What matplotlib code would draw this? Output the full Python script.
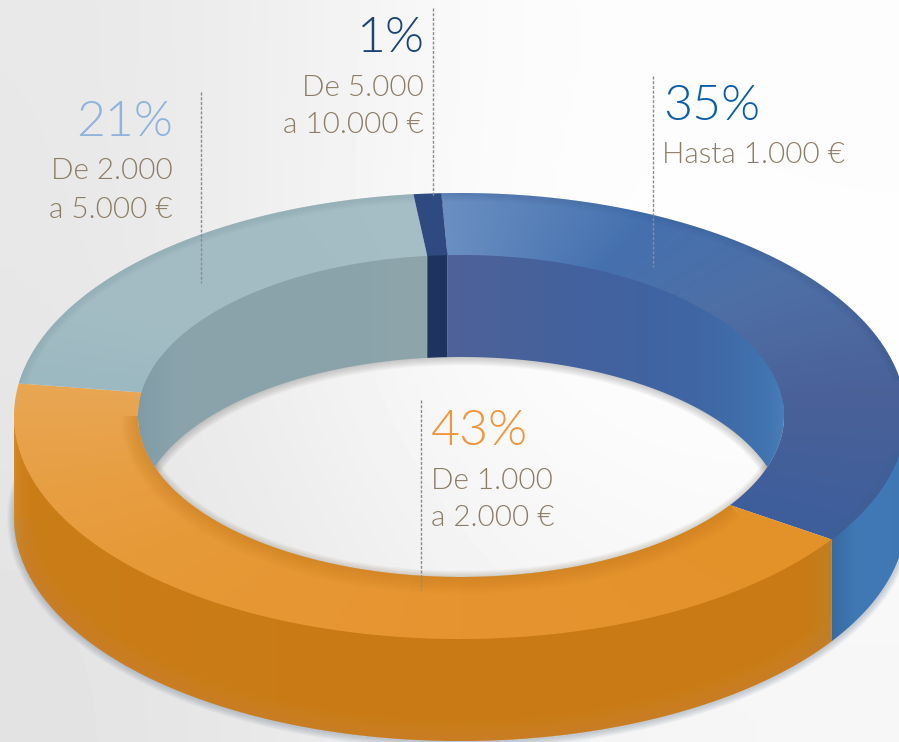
import numpy as np
import matplotlib
matplotlib.use("Agg")
import matplotlib.pyplot as plt
from matplotlib import font_manager as fm
from matplotlib.colors import LinearSegmentedColormap
from matplotlib.patches import PathPatch
from matplotlib.path import Path

# data
labels = ["Hasta 1.000 €", "De 1.000\na 2.000 €", "De 2.000\na 5.000 €", "De 5.000\na 10.000 €"]
shares = [35, 43, 21, 1]
share_labels = ["35%", "43%", "21%", "1%"]
bg_levels = [[0xe8, 0xee, 0xfa, 0xfd, 0xfc],
             [0xe6, 0xef, 0xfb, 0xff, 0xff],
             [0xe3, 0xe8, 0xf0, 0xf5, 0xf6]]

W, H = 899, 742
TXT = "#8d7d67"

# ring geometry in pixels
CX, CY, RX, RY = 460, 416, 446, 223
ICX, IRX, IRY = 461, 323, 161
DEPTH = 102
START = -2.4

edges = START + np.concatenate([[0], np.cumsum(shares)]) * 3.6
a0, a1, a2, a3, a4 = edges


def find_font(size):
    # weight lookup lands on the hairline cut, so pick the file by name
    names = [f.fname for f in fm.fontManager.ttflist if "lato" in f.fname.lower()]
    light = [n for n in names if n.lower().endswith("light.ttf") and "hair" not in n.lower()]
    if light:
        return fm.FontProperties(fname=sorted(light, key=len)[0], size=size)
    return fm.FontProperties(family="Open Sans", weight="light", size=size)


fig = plt.figure(figsize=(W / 100, H / 100), dpi=100)
ax = fig.add_axes([0, 0, 1, 1])
ax.set_xlim(0, W)
ax.set_ylim(H, 0)
ax.axis("off")

yy, xx = np.mgrid[0:H, 0:W]
outer_angle = np.degrees(np.arctan2((xx - CX) / RX, (CY - yy) / RY))
outer_angle = np.where(outer_angle < START, outer_angle + 360, outer_angle)
wall_angle = np.degrees(np.arcsin(np.clip((xx - CX) / RX, -1, 1)))
inner_wall_angle = np.degrees(np.arcsin(np.clip((xx - ICX) / IRX, -1, 1)))


def arc(t1, t2, cx, rx, ry, dy=0, n=200):
    t = np.radians(np.linspace(t1, t2, n))
    return cx + rx * np.sin(t), CY + dy - ry * np.cos(t)


def closed(x, y):
    v = np.column_stack([np.append(x, x[0]), np.append(y, y[0])])
    codes = [Path.MOVETO] + [Path.LINETO] * (len(x) - 1) + [Path.CLOSEPOLY]
    return Path(v, codes)


def sector(t1, t2):
    x1, y1 = arc(t1, t2, CX, RX, RY)
    x2, y2 = arc(t2, t1, ICX, IRX, IRY)
    return closed(np.r_[x1, x2], np.r_[y1, y2])


def band(t1, t2, cx, rx, ry, up=0):
    # up: start a bit above the top edge, the top surface covers that part
    x1, y1 = arc(t1, t2, cx, rx, ry, -up)
    x2, y2 = arc(t2, t1, cx, rx, ry, DEPTH)
    return closed(np.r_[x1, x2], np.r_[y1, y2])


def fill(path, field, stops, inside_hole=False):
    pos = np.array([s[0] for s in stops], dtype=float)
    lo, hi = pos[0], pos[-1]
    cmap = LinearSegmentedColormap.from_list("g", [((p - lo) / (hi - lo), s[1]) for p, s in zip(pos, stops)])
    im = ax.imshow(field, extent=(-0.5, W - 0.5, H - 0.5, -0.5), cmap=cmap, vmin=lo, vmax=hi,
                   interpolation="nearest", aspect="auto", zorder=2)
    if inside_hole:
        # the far wall is only seen through the inner ellipse
        verts = path.vertices.copy()
        limit = CY + IRY * np.sqrt(np.clip(1 - ((verts[:, 0] - ICX) / IRX) ** 2, 0, 1))
        verts[:, 1] = np.minimum(verts[:, 1], limit)
        path = Path(verts, path.codes)
    p = PathPatch(path, transform=ax.transData, fc="none", ec="none")
    ax.add_patch(p)
    im.set_clip_path(p)
    return p


def soft(x, y, color, width, alpha, clip=None, zorder=3, n=8):
    for i in range(n):
        ln, = ax.plot(x, y, color=color, lw=width * (i + 1) / n, alpha=alpha / n,
                      solid_capstyle="butt", zorder=zorder)
        if clip is not None:
            ln.set_clip_path(clip)


# background
ax.imshow(np.array(bg_levels), extent=(0, W, H, 0), cmap="gray", vmin=0, vmax=255,
          interpolation="bicubic", aspect="auto", zorder=0)

# drop shadows under the ring and on the hole floor
sx, sy = arc(75, 285, CX, RX, RY, DEPTH + 1)
soft(sx, sy, "#6f7f92", 10, 0.4, zorder=1)
sx, sy = arc(-80, 80, ICX, IRX, IRY, DEPTH)
soft(sx, sy, "#666666", 12, 0.35, zorder=1)
sx, sy = arc(95, 265, ICX, IRX, IRY)
soft(sx, sy, "#8a7a60", 9, 0.3, zorder=1)

# outer wall
orange_wall = fill(band(a1, 270, CX, RX, RY, 3), wall_angle,
                   [(-90, "#d28a2c"), (-75, "#cb7d18"), (0, "#c97a14"), (50, "#c97a14"), (56.3, "#c0801f"), (90, "#c0801f")])
blue_wall = fill(band(90, a1, CX, RX, RY, 3), wall_angle,
                 [(56, "#38689f"), (62, "#3f78b5"), (75, "#4078b5"), (90, "#3c70ae")])

# inner wall, far side only
fill(band(a0, 90, ICX, IRX, IRY, 3), inner_wall_angle,
     [(a0, "#4f6198"), (20, "#43619e"), (45, "#3f66a3"), (70, "#4174b0"), (90, "#4a82bc")], True)
fill(band(-90, a3 - 360, ICX, IRX, IRY, 3), inner_wall_angle,
     [(-90, "#7e9aa5"), (-60, "#8aa3ac"), (-20, "#8aa3aa"), (a3 - 360, "#8ea5ab")], True)
fill(band(a3 - 360, a0, ICX, IRX, IRY, 3), inner_wall_angle, [(a3 - 360, "#1f3360"), (a0, "#1f3360")], True)

# top surface
blue_top = fill(sector(a0, a1), outer_angle,
                [(a0, "#6a8ec2"), (8, "#5c84bb"), (25, "#4571ae"), (50, "#4e6fa6"), (85, "#4a6198"), (a1, "#3d5e9c")])
orange_top = fill(sector(a1, a2), outer_angle,
                  [(a1, "#e39229"), (180, "#e69430"), (230, "#e79a38"), (260, "#e8a148"), (a2, "#e8a653")])
light_top = fill(sector(a2, a3), outer_angle,
                 [(a2, "#9cb8c0"), (300, "#a3bdc4"), (330, "#a3bcc3"), (a3, "#a6bfc6")])
navy_top = fill(sector(a3, a4), outer_angle, [(a3, "#2e4a80"), (a4, "#2e4a80")])

# soft edges
sx, sy = arc(a1, 270, ICX, IRX, IRY)
soft(sx, sy, "#c47a1c", 24, 0.5, orange_top)
sx, sy = arc(a2, a3, CX, RX, RY)
soft(sx, sy, "#84a0a8", 12, 0.4, light_top)
sx, sy = arc(a0, a1, CX, RX, RY)
soft(sx, sy, "#3f5f96", 12, 0.3, blue_top)
sx, sy = arc(90, 270, CX, RX, RY, DEPTH)
soft(sx, sy, "#c98f45", 30, 0.45, orange_wall)

# leader lines
for x, y1, y2 in [(433, 8, 197), (201, 92, 283), (653, 76, 267), (421, 400, 590)]:
    ax.plot([x, x], [y1, y2], color="#8c8c8c", lw=1.0, ls=(0, (2.2, 1.2)), zorder=5)

# labels
share_style = dict(fontproperties=find_font(36), zorder=6)
sub_style = dict(fontproperties=find_font(21.3), color=TXT, zorder=6)

ax.text(663, 120, share_labels[0], color="#0a5dab", ha="left", va="baseline", **share_style)
ax.text(662, 163, labels[0], ha="left", va="baseline", **sub_style)

ax.text(431, 445, share_labels[1], color="#f0953a", ha="left", va="baseline", **share_style)
for line, y in zip(labels[1].split("\n"), [489, 526]):
    ax.text(431, y, line, ha="left", va="baseline", **sub_style)

ax.text(173, 136, share_labels[2], color="#8fb3dc", ha="right", va="baseline", **share_style)
for line, y in zip(labels[2].split("\n"), [179, 218]):
    ax.text(173, y, line, ha="right", va="baseline", **sub_style)

ax.text(425, 52, share_labels[3], color="#1d4373", ha="right", va="baseline", **share_style)
for line, y in zip(labels[3].split("\n"), [96, 133]):
    ax.text(424, y, line, ha="right", va="baseline", **sub_style)

ax.set_xlim(0, W)
ax.set_ylim(H, 0)
fig.savefig("out.png", dpi=100)
